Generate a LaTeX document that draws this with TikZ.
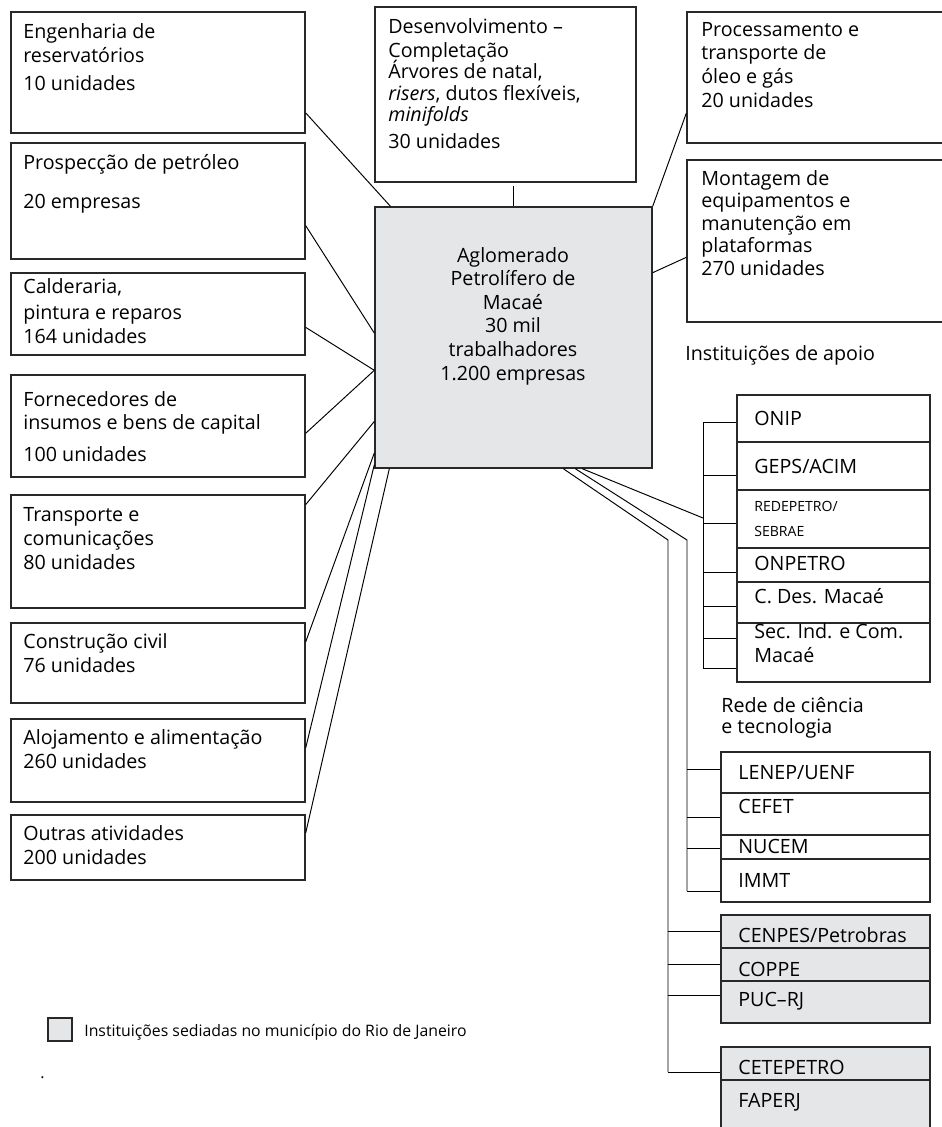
\documentclass[tikz,border=0pt]{standalone}
\usepackage{fontspec}
\setmainfont{Open Sans}
\usetikzlibrary{calc}
\usetikzlibrary{fit}

\definecolor{hubgray}{RGB}{229,230,232}
\definecolor{edge}{RGB}{40,40,40}

\tikzset{
  box/.style={draw=edge, line width=0.8pt, inner sep=0pt},
  graybox/.style={box, fill=hubgray},
  txt/.style={anchor=base west, align=left, inner sep=0pt, font=\fontsize{11.2}{13.4}\selectfont},
  smalltxt/.style={txt, font=\fontsize{8}{14.2}\selectfont},
  legtxt/.style={txt, font=\fontsize{9}{11}\selectfont},
  link/.style={draw=black, line width=0.55pt},
}

\begin{document}
\begin{tikzpicture}[x=0.02cm, y=-0.02cm]
\useasboundingbox (0,0) rectangle (941,1127);

% left column (text nodes sit on the baseline of their last line)
\node[box, fit={(11,12) (305,133)}] (eng) {};
\node[box, fit={(11,143) (305,259)}] (prosp) {};
\node[box, fit={(11,273) (305,355)}] (cald) {};
\node[box, fit={(11,375) (305,477)}] (forn) {};
\node[box, fit={(11,495) (305,608)}] (transp) {};
\node[box, fit={(11,623) (305,703)}] (constr) {};
\node[box, fit={(11,719) (305,802)}] (aloj) {};
\node[box, fit={(11,815) (305,880)}] (outras) {};

\node[txt] (eng-t) at (23,90) {Engenharia de\\reservatórios\\[2.5pt]10 unidades};
\node[txt] (prosp-t) at (23,208) {Prospecção de petróleo\\[8.3pt]20 empresas};
\node[txt] (cald-t) at (23,343) {Calderaria,\\[1.5pt]pintura e reparos\\164 unidades};
\node[txt] (forn-t) at (23,461) {Fornecedores de\\insumos e bens de capital\\[4.3pt]100 unidades};
\node[txt] (transp-t) at (23,569) {Transporte e\\comunicações\\80 unidades};
\node[txt] (constr-t) at (23,672) {Construção civil\\76 unidades};
\node[txt] (aloj-t) at (23,768) {Alojamento e alimentação\\260 unidades};
\node[txt] (outras-t) at (23,864) {Outras atividades\\200 unidades};

% centre
\node[box, fit={(375,7) (636,182)}] (desenv) {};
\node[txt] (desenv-t) at (388,148) {Desenvolvimento –\\Completação\\[-1.5pt]Árvores de natal,\\[-1pt]\textit{risers}, dutos flexíveis,\\[-1pt]\textit{minifolds}\\[1.5pt]30 unidades};

\node[graybox, fit={(375,207) (652,468)}] (hub) {};
\node[txt, anchor=base, align=center] (hub-t) at (513,380) {Aglomerado\\Petrolífero de\\Macaé\\30 mil\\trabalhadores\\1.200 empresas};

% right top
\node[box, fit={(687,12) (950,143)}] (proc) {};
\node[box, fit={(687,160) (950,322)}] (mont) {};
\node[txt] (proc-t) at (701,107) {Processamento e\\transporte de\\óleo e gás\\20 unidades};
\node[txt] (mont-t) at (701,275) {Montagem de\\[-0.6pt]equipamentos e\\[-0.6pt]manutenção em\\[-0.6pt]plataformas\\[-0.6pt]270 unidades};

% links to the hub
\draw[link] ($(eng.north east)!.83!(eng.south east)$) -- ($(hub.north west)!.058!(hub.north east)$);
\draw[link] ($(prosp.north east)!.71!(prosp.south east)$) -- ($(hub.north west)!.483!(hub.south west)$);
\draw[link] ($(cald.north east)!.66!(cald.south east)$) -- ($(hub.north west)!.625!(hub.south west)$);
\draw[link] ($(forn.north east)!.57!(forn.south east)$) -- ($(hub.north west)!.625!(hub.south west)$);
\draw[link] ($(transp.north east)!.09!(transp.south east)$) -- ($(hub.north west)!.82!(hub.south west)$);
\draw[link] ($(constr.north east)!.24!(constr.south east)$) -- ($(hub.north west)!.94!(hub.south west)$);
\draw[link] ($(aloj.north east)!.35!(aloj.south east)$) -- ($(hub.north west)!.985!(hub.south west)$);
\draw[link] ($(outras.north east)!.28!(outras.south east)$) -- ($(hub.south west)!.054!(hub.south east)$);
\draw[link] (hub.north) -- ++(0,-20);
\draw[link] ($(proc.north west)!.77!(proc.south west)$) -- (hub.north east);
\draw[link] ($(mont.north west)!.6!(mont.south west)$) -- ($(hub.north east)!.253!(hub.south east)$);

% instituicoes de apoio
\node[txt] (apoio-t) at (685,360) {Instituições de apoio};
\node[box, fit={(737,395) (930,442)}] (onip) {};
\node[box, fit={(737,442) (930,490)}] (geps) {};
\node[box, fit={(737,490) (930,548)}] (redep) {};
\node[box, fit={(737,548) (930,582)}] (onpetro) {};
\node[box, fit={(737,582) (930,623)}] (cdes) {};
\node[box, fit={(737,623) (930,682)}] (secind) {};
\node[txt] (onip-t) at (754,425) {ONIP};
\node[txt] (geps-t) at (754,473) {GEPS/ACIM};
\node[smalltxt] (redep-t) at (754,536) {REDEPETRO/\\SEBRAE};
\node[txt] (onpetro-t) at (754,570) {ONPETRO};
\node[txt] (cdes-t) at (754,603) {C. Des. Macaé};
\node[txt] (secind-t) at (754,662) {Sec. Ind. e Com.\\Macaé};

\foreach \k/\y in {1/422,2/475,3/523,4/572,5/606,6/638,7/668}
  \coordinate (ia-\k) at (703,\y);
\coordinate (ia-in) at (703,518);
\draw[link] (ia-1) -- (ia-7);
\foreach \k in {1,...,7}
  \draw[link] (ia-\k) -- (ia-\k -| onip.west);
\draw[link] ($(hub.south west)!.747!(hub.south east)$) -- (ia-in);

% rede de ciencia e tecnologia
\node[txt] (rede-t) at (721,733) {Rede de ciência\\[-2pt]e tecnologia};
\node[box, fit={(721,752) (930,793)}] (lenep) {};
\node[box, fit={(721,793) (930,835)}] (cefet) {};
\node[box, fit={(721,835) (930,859)}] (nucem) {};
\node[box, fit={(721,859) (930,902)}] (immt) {};
\node[txt] (lenep-t) at (738,779) {LENEP/UENF};
\node[txt] (cefet-t) at (738,813) {CEFET};
\node[txt] (nucem-t) at (738,853) {NUCEM};
\node[txt] (immt-t) at (738,887) {IMMT};

\node[graybox, fit={(721,915) (930,948)}] (cenpes) {};
\node[graybox, fit={(721,948) (930,981)}] (coppe) {};
\node[graybox, fit={(721,981) (930,1023)}] (puc) {};
\node[graybox, fit={(721,1047) (930,1080)}] (cetep) {};
\node[graybox, fit={(721,1080) (930,1140)}] (faperj) {};
\node[txt] (cenpes-t) at (738,942) {CENPES/Petrobras};
\node[txt] (coppe-t) at (738,976) {COPPE};
\node[txt] (puc-t) at (738,1006) {PUC–RJ};
\node[txt] (cetep-t) at (738,1074) {CETEPETRO};
\node[txt] (faperj-t) at (738,1107) {FAPERJ};

\coordinate (rc-bend) at (687,540);
\foreach \k/\y in {1/769,2/817,3/848,4/891}
  \coordinate (rc-\k) at (687,\y);
\draw[link] ($(hub.south west)!.722!(hub.south east)$) -- (rc-bend) -- (rc-4);
\foreach \k in {1,...,4}
  \draw[link] (rc-\k) -- (rc-\k -| lenep.west);

\coordinate (rj-bend) at (668,540);
\foreach \k/\y in {1/931,2/964,3/995,4/1072}
  \coordinate (rj-\k) at (668,\y);
\draw[link] ($(hub.south west)!.679!(hub.south east)$) -- (rj-bend) -- (rj-4);
\foreach \k in {1,...,4}
  \draw[link] (rj-\k) -- (rj-\k -| cenpes.west);

% legenda
\node[graybox, fit={(48,1018) (72,1041)}] (legbox) {};
\node[legtxt] (leg-t) at (84,1036) {Instituições sediadas no município do Rio de Janeiro};
\node[legtxt] (dot) at (40,1078) {.};

\end{tikzpicture}
\end{document}
